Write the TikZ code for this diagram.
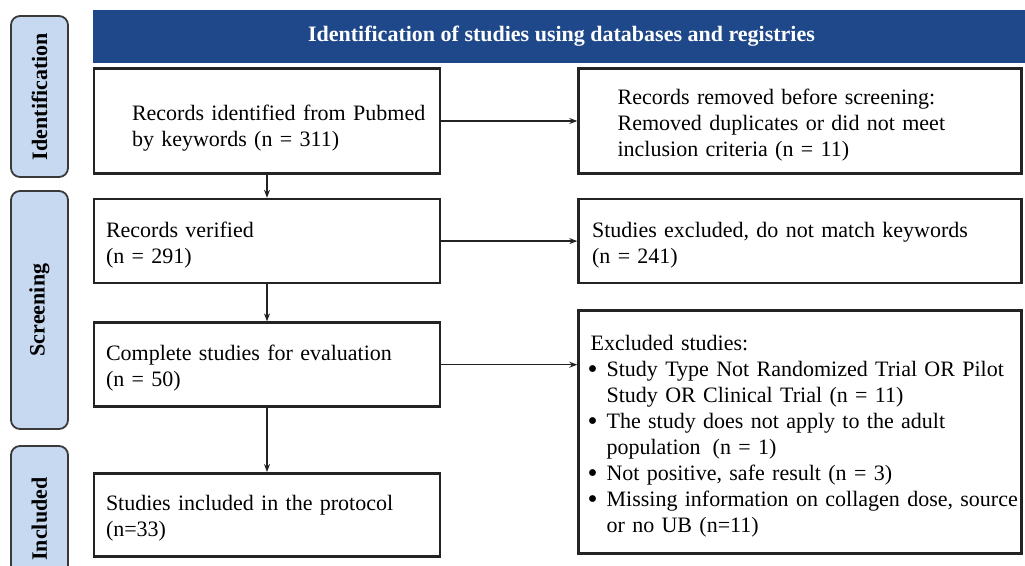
\documentclass[tikz,border=0pt]{standalone}
\usepackage{fontspec}
\setmainfont{Liberation Serif}
\usepackage{tikz}
\usetikzlibrary{arrows.meta, positioning}
\definecolor{headblue}{RGB}{31,72,138}
\definecolor{phaseblue}{RGB}{198,217,240}
\definecolor{boxgray}{RGB}{35,35,35}
\newcommand{\bulline}[1]{\makebox[19pt][l]{\smash{\raisebox{-2pt}{\scalebox{1.3}{\textbullet}}}}\mbox{#1}}
\newcommand{\bulcont}[1]{\hspace*{19pt}\mbox{#1}}

\begin{document}
\begin{tikzpicture}[
    x=1pt, y=1pt,
    box/.style={
        rectangle, draw=boxgray, line width=2.6pt,
        align=left, inner ysep=0pt,
        font=\fontsize{22}{26}\selectfont
    },
    leftbox/.style={box, text width=322pt, inner xsep=12pt},
    rightbox/.style={box, text width=416pt, inner xsep=13.5pt},
    phase/.style={
        rectangle, rounded corners=9pt, rotate=90,
        draw=boxgray!90, line width=1.8pt, fill=phaseblue,
        minimum height=57pt, inner sep=0pt,
        font=\fontsize{22}{26}\selectfont\bfseries
    },
    header/.style={
        rectangle, fill=headblue, text=white,
        minimum width=938pt, minimum height=53pt,
        font=\fontsize{22}{26}\selectfont\bfseries
    },
    arr/.style={-{Stealth[length=8pt, width=6pt]}, line width=1.3pt, color=boxgray},
]
\clip (0,0) rectangle (1025,-565);

% Etapas
\node[phase, minimum width=161pt] (ident) at (39.5,-96.5) {Identification};
\node[phase, minimum width=238pt] (screen) at (39.5,-310) {Screening};
\node[phase, minimum width=146pt] (incl) at (39.5,-519) {Included};

% Titulo
\node[header] (title) at (561.5,-36.5) {Identification of studies using databases and registries};

% Columna izquierda
\node[leftbox, minimum height=105pt] (records) at (267,-121)
    {\rule{0pt}{30pt}\hspace*{26pt}Records identified from Pubmed\\\hspace*{26pt}by keywords (n = 311)};
\node[leftbox, minimum height=84pt, below=23pt of records] (verified)
    {\rule{0pt}{24pt}Records verified\\(n = 291)};
\node[leftbox, minimum height=84pt, below=37pt of verified] (complete)
    {\rule{0pt}{22pt}Complete studies for evaluation\\(n = 50)};
\node[leftbox, minimum height=83pt, below=64pt of complete] (included)
    {\rule{0pt}{22pt}Studies included in the protocol\\(n=33)};

% Columna derecha
\node[rightbox, minimum height=105pt, text width=365pt, inner xsep=39pt, right=136pt of records] (removed)
    {\rule{0pt}{24pt}Records removed before screening:\\Removed duplicates or did not meet\\inclusion criteria (n = 11)};
\node[rightbox, minimum height=84pt, right=136pt of verified] (nomatch)
    {\rule{0pt}{24pt}Studies excluded, do not match keywords\\(n = 241)};
\node[rightbox, minimum height=243pt, text width=425pt, inner xsep=9pt, below=25pt of nomatch] (excluded)
    {\rule{0pt}{23pt}\hspace*{3pt}Excluded studies:\\
     \bulline{Study Type Not Randomized Trial OR Pilot}\\
     \bulcont{Study OR Clinical Trial (n = 11)}\\
     \bulline{The study does not apply to the adult}\\
     \bulcont{population\hspace{12pt}(n = 1)}\\
     \bulline{Not positive, safe result (n = 3)}\\
     \bulline{Missing information on collagen dose, source}\\
     \bulcont{or no UB (n=11)}};

% Flechas
\draw[arr] (records) -- (removed);
\draw[arr] (records) -- (verified);
\draw[arr] (verified) -- (nomatch);
\draw[arr] (verified) -- (complete);
\draw[arr] (complete) -- (complete -| excluded.west);
\draw[arr] (complete) -- (included);

\end{tikzpicture}
\end{document}
